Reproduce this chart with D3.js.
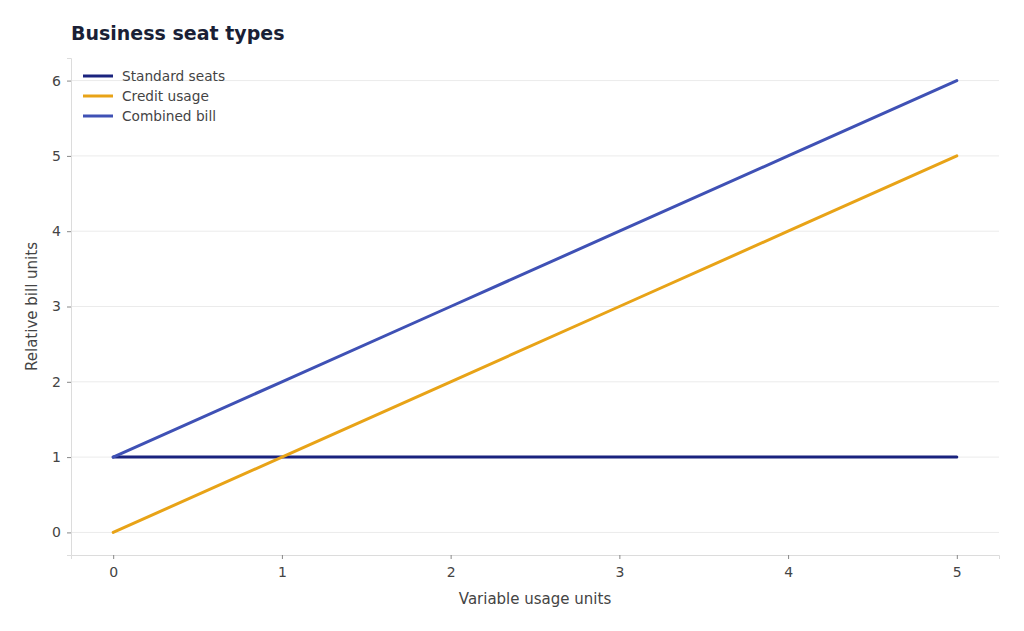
<!DOCTYPE html>
<html>
<head>
<meta charset="utf-8">
<script src="https://cdn.jsdelivr.net/npm/d3@7"></script>
<style>
  body { margin: 0; background: #fff; }
  svg { font-family: "DejaVu Sans", sans-serif; }
</style>
</head>
<body>
<div id="chart"></div>
<script>
// data
const usage = [0, 1, 2, 3, 4, 5]
const standardSeats = [1, 1, 1, 1, 1, 1]
const creditUsage = [0, 1, 2, 3, 4, 5]
const combinedBill = [1, 2, 3, 4, 5, 6]
const xTicks = [0, 1, 2, 3, 4, 5]
const yTicks = [0, 1, 2, 3, 4, 5, 6]

const series = [
  { name: 'Standard seats', values: standardSeats, color: '#1a237e' },
  { name: 'Credit usage', values: creditUsage, color: '#e8a317' },
  { name: 'Combined bill', values: combinedBill, color: '#3f51b5' },
]

const width = 1024
const height = 631
const margin = { top: 58, right: 25, bottom: 76, left: 71 }

const svg = d3.select('#chart').append('svg')
  .attr('width', width)
  .attr('height', height)

const x = d3.scaleLinear()
  .domain([-0.25, 5.25])
  .range([margin.left, width - margin.right])

const y = d3.scaleLinear()
  .domain([-0.3, 6.3])
  .range([height - margin.bottom, margin.top])

// grid
svg.append('g')
  .selectAll('line')
  .data(yTicks)
  .join('line')
    .attr('x1', margin.left)
    .attr('x2', width - margin.right)
    .attr('y1', d => y(d))
    .attr('y2', d => y(d))
    .attr('stroke', '#ebebeb')
    .attr('stroke-width', 1)

// axes
const xAxis = svg.append('g')
  .attr('transform', `translate(0,${height - margin.bottom})`)
  .call(d3.axisBottom(x).tickValues(xTicks).tickFormat(d3.format('d')).tickSize(4).tickPadding(8))
const yAxis = svg.append('g')
  .attr('transform', `translate(${margin.left},0)`)
  .call(d3.axisLeft(y).tickValues(yTicks).tickFormat(d3.format('d')).tickSize(4).tickPadding(6))

for (const ax of [xAxis, yAxis]) {
  ax.select('.domain').attr('stroke', '#dcdcdc')
  ax.selectAll('.tick line').attr('stroke', '#888')
  ax.selectAll('.tick text')
    .attr('fill', '#444')
    .style('font-size', '14px')
    .style('font-family', '"DejaVu Sans", sans-serif')
}

// lines
const line = d3.line()
  .x((d, i) => x(usage[i]))
  .y(d => y(d))

svg.append('g')
  .selectAll('path')
  .data(series)
  .join('path')
    .attr('d', d => line(d.values))
    .attr('fill', 'none')
    .attr('stroke', d => d.color)
    .attr('stroke-width', 3)
    .attr('stroke-linecap', 'round')

// title + labels
svg.append('text')
  .attr('x', 71)
  .attr('y', 40)
  .attr('fill', '#1a1f36')
  .style('font-size', '19px')
  .style('font-weight', 'bold')
  .text('Business seat types')

svg.append('text')
  .attr('x', (margin.left + width - margin.right) / 2)
  .attr('y', 604)
  .attr('text-anchor', 'middle')
  .attr('fill', '#444')
  .style('font-size', '15px')
  .text('Variable usage units')

svg.append('text')
  .attr('transform', `translate(37,${(margin.top + height - margin.bottom) / 2}) rotate(-90)`)
  .attr('text-anchor', 'middle')
  .attr('fill', '#444')
  .style('font-size', '15px')
  .text('Relative bill units')

// legend
const legend = svg.append('g')
  .selectAll('g')
  .data(series)
  .join('g')
    .attr('transform', (d, i) => `translate(83,${76 + i * 20})`)
legend.append('line')
  .attr('x1', 0).attr('x2', 30)
  .attr('stroke', d => d.color)
  .attr('stroke-width', 3)
legend.append('text')
  .attr('x', 39)
  .attr('dy', '0.35em')
  .attr('fill', '#444')
  .style('font-size', '13.7px')
  .text(d => d.name)
</script>
</body>
</html>
